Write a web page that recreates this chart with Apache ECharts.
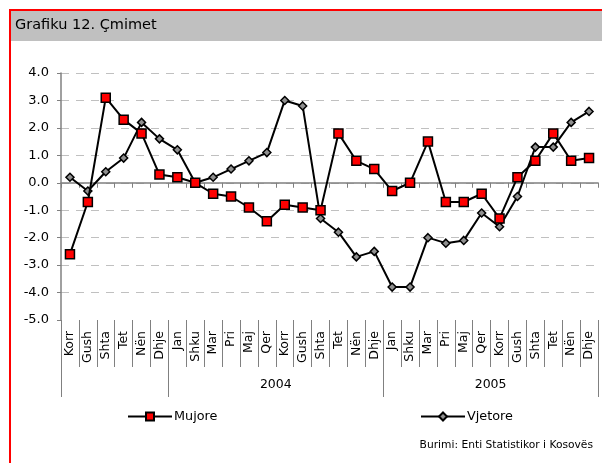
<!DOCTYPE html>
<html>
<head>
<meta charset="utf-8">
<script src="https://cdn.jsdelivr.net/npm/echarts@6/dist/echarts.min.js"></script>
<style>
  html, body { margin: 0; padding: 0; background: #fff; }
  #chart { width: 602px; height: 463px; }
</style>
</head>
<body>
<div id="chart"></div>
<script>
  const months = ['Korr', 'Gush', 'Shta', 'Tet', 'Nën', 'Dhje',
    'Jan', 'Shku', 'Mar', 'Pri', 'Maj', 'Qer', 'Korr', 'Gush', 'Shta', 'Tet', 'Nën', 'Dhje',
    'Jan', 'Shku', 'Mar', 'Pri', 'Maj', 'Qer', 'Korr', 'Gush', 'Shta', 'Tet', 'Nën', 'Dhje'];
  const mujore = [-2.6, -0.7, 3.1, 2.3, 1.8, 0.3,
    0.2, 0.0, -0.4, -0.5, -0.9, -1.4, -0.8, -0.9, -1.0, 1.8, 0.8, 0.5,
    -0.3, 0.0, 1.5, -0.7, -0.7, -0.4, -1.3, 0.2, 0.8, 1.8, 0.8, 0.9];
  const vjetore = [0.2, -0.3, 0.4, 0.9, 2.2, 1.6,
    1.2, 0.0, 0.2, 0.5, 0.8, 1.1, 3.0, 2.8, -1.3, -1.8, -2.7, -2.5,
    -3.8, -3.8, -2.0, -2.2, -2.1, -1.1, -1.6, -0.5, 1.3, 1.3, 2.2, 2.6];
  // year groups: boundaries (in months) and label positions
  const yearBounds = [0, 6, 18, 30];
  const yearLabels = { 12: '2004', 24: '2005' };

  const font = 'DejaVu Sans';
  const gray = '#808080';
  const chart = echarts.init(document.getElementById('chart'));
  chart.setOption({
    animation: false,
    textStyle: { fontFamily: font },
    title: {
      text: 'Grafiku 12. Çmimet',
      left: 15,
      top: 18,
      padding: 0,
      textStyle: { fontFamily: font, fontSize: 14.5, fontWeight: 'normal', color: '#000' }
    },
    graphic: [
      { type: 'rect', shape: { x: 11, y: 11, width: 591, height: 30 }, style: { fill: '#c0c0c0' }, z: -1 },
      { type: 'line', shape: { x1: 10, y1: 9, x2: 10, y2: 463 }, style: { stroke: '#ff0000', lineWidth: 2 } },
      { type: 'line', shape: { x1: 9, y1: 10, x2: 602, y2: 10 }, style: { stroke: '#ff0000', lineWidth: 2 } },
      {
        type: 'text',
        right: 9,
        top: 440,
        style: { text: 'Burimi: Enti Statistikor i Kosovës', font: '10.7px "DejaVu Sans"', fill: '#000' }
      }
    ],
    legend: [
      {
        data: ['Mujore'], left: 122, top: 405, selectedMode: false,
        itemWidth: 44, itemHeight: 10, itemGap: 0,
        textStyle: { fontSize: 12.8, color: '#000', padding: [0, 0, 0, -3] }
      },
      {
        data: ['Vjetore'], left: 415, top: 405, selectedMode: false,
        itemWidth: 44, itemHeight: 10, itemGap: 0,
        textStyle: { fontSize: 12.8, color: '#000', padding: [0, 0, 0, -3] }
      }
    ],
    grid: [
      { left: 61, right: 4, top: 73, bottom: 143 },
      { left: 61, right: 4, top: 300, height: 20 },
      { left: 61, right: 4, top: 300, height: 20 }
    ],
    xAxis: [
      {
        type: 'category', gridIndex: 0, data: months, boundaryGap: true,
        axisLine: { onZero: true, lineStyle: { color: gray, width: 1.5 } },
        axisTick: { show: true, interval: 0, length: 5, lineStyle: { color: gray } },
        axisLabel: { show: false }
      },
      {
        type: 'category', gridIndex: 1, data: months, boundaryGap: true,
        axisLine: { show: false },
        axisTick: { show: true, interval: 0, length: 47, lineStyle: { color: gray } },
        axisLabel: { interval: 0, rotate: 90, margin: 11, fontSize: 12.5, color: '#000' }
      },
      {
        type: 'value', gridIndex: 2, min: 0, max: 30,
        axisLine: { show: false },
        splitLine: { show: false },
        axisTick: { show: true, customValues: yearBounds, length: 77, lineStyle: { color: gray } },
        axisLabel: {
          customValues: [12, 24], margin: 58, fontSize: 12.5, color: '#000',
          formatter: (v) => yearLabels[v] || ''
        }
      }
    ],
    yAxis: [
      {
        type: 'value', gridIndex: 0, min: -5, max: 4, interval: 1,
        axisLine: { show: true, lineStyle: { color: gray, width: 1.5 } },
        axisTick: { show: true, length: 4, lineStyle: { color: gray } },
        axisLabel: { margin: 12, fontSize: 13, color: '#000', formatter: (v) => v.toFixed(1) },
        splitLine: {
          show: true,
          lineStyle: {
            // no dashed line at the bottom (-5.0)
            color: ['rgba(0,0,0,0)', '#c0c0c0', '#c0c0c0', '#c0c0c0', '#c0c0c0',
              '#c0c0c0', '#c0c0c0', '#c0c0c0', '#c0c0c0', '#c0c0c0'],
            type: [8, 7],
            width: 1
          }
        }
      },
      { type: 'value', gridIndex: 1, show: false },
      { type: 'value', gridIndex: 2, show: false }
    ],
    series: [
      {
        name: 'Mujore', type: 'line', xAxisIndex: 0, yAxisIndex: 0, data: mujore,
        symbol: 'rect', symbolSize: 9,
        lineStyle: { color: '#000', width: 2 },
        itemStyle: { color: '#ff0000', borderColor: '#000', borderWidth: 1.5 },
        z: 3
      },
      {
        name: 'Vjetore', type: 'line', xAxisIndex: 0, yAxisIndex: 0, data: vjetore,
        symbol: 'diamond', symbolSize: 8,
        lineStyle: { color: '#000', width: 2 },
        itemStyle: { color: '#909090', borderColor: '#000', borderWidth: 1.5 },
        z: 2
      }
    ]
  });
</script>
</body>
</html>
